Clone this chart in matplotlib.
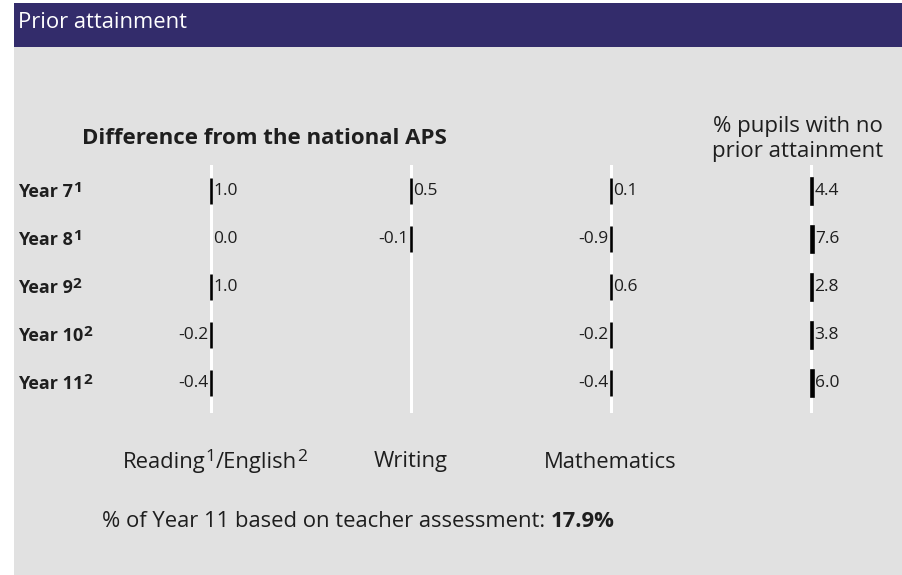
import numpy as np
import matplotlib
matplotlib.use("Agg")
from matplotlib import pyplot as plt
from matplotlib.patches import Rectangle

plt.rcParams['font.family'] = ['Open Sans', 'DejaVu Sans']

# rows and their footnote marks
years = ['Year 7', 'Year 8', 'Year 9', 'Year 10', 'Year 11']
year_marks = ['1', '1', '2', '2', '2']

# difference from the national APS (nan = not reported)
reading = [1.0, 0.0, 1.0, -0.2, -0.4]
writing = [0.5, -0.1, np.nan, np.nan, np.nan]
maths = [0.1, -0.9, 0.6, -0.2, -0.4]
# % pupils with no prior attainment
no_prior = [4.4, 7.6, 2.8, 3.8, 6.0]

teacher_pct = 17.9

W, H = 902, 575
BG = '#e1e1e1'
HEAD = '#332c6b'
INK = '#1e1e1e'

fig = plt.figure(figsize=(W / 100, H / 100), dpi=100)
fig.patch.set_facecolor('white')

def fx(px):
    return px / W

def fy(py):
    return 1 - py / H

# grey panel and header band
fig.patches.append(Rectangle((fx(14), 0), 1 - fx(14), fy(47), transform=fig.transFigure,
                             facecolor=BG, edgecolor='none', zorder=-2))
fig.patches.append(Rectangle((fx(14), fy(47)), 1 - fx(14), fy(3) - fy(47), transform=fig.transFigure,
                             facecolor=HEAD, edgecolor='none', zorder=-2))
fig.text(fx(18), fy(23), 'Prior attainment', color='white', fontsize=15.8, va='center', ha='left')

renderer = fig.canvas.get_renderer()

def pieces(x, y, parts, ha='left'):
    # draw text runs side by side; parts = (text, size, weight, raise_px)
    objs = []
    for s, size, weight, up in parts:
        t = fig.text(0, 0, s, fontsize=size, fontweight=weight, color=INK, va='baseline', ha='left')
        objs.append((t, up))
    widths = [t.get_window_extent(renderer).width for t, _ in objs]
    total = sum(widths)
    left = x - total / 2 if ha == 'center' else x
    for (t, up), w in zip(objs, widths):
        t.set_position((fx(left), fy(y - up)))
        left += w

# column axes: one per measure, zero line at the column centre
cols = [(211, reading), (411, writing), (611, maths), (811, no_prior)]
top, bottom = 165, 413
row_y = 191
row_gap = 48
ypos = np.arange(len(years))
lim = 340

for cx, vals in cols:
    ax = fig.add_axes([fx(cx - 100), fy(bottom), fx(200), fy(top) - fy(bottom)])
    ax.set_xlim(-lim, lim)
    ax.set_ylim(len(years) - 1 + (bottom - (row_y + row_gap * 4)) / row_gap,
                -(row_y - top) / row_gap)
    ax.axis('off')
    ax.axvline(0, color='white', lw=2.2, zorder=1)
    v = np.array(vals, dtype=float)
    ok = ~np.isnan(v)
    ax.barh(ypos[ok], v[ok], height=0.56, color='black', edgecolor='black',
            lw=np.where(v[ok] == 0, 0, 1.9), zorder=2)
    for i in ypos[ok]:
        val = v[i]
        if val < 0:
            ax.annotate(f'{val:.1f}', (val, i), xytext=(-2, 0), textcoords='offset points',
                        ha='right', va='center', fontsize=12.5, color=INK)
        else:
            ax.annotate(f'{val:.1f}', (val, i), xytext=(1.5, 0), textcoords='offset points',
                        ha='left', va='center', fontsize=12.5, color=INK)

# row labels with footnote marks
for i, (yr, mk) in enumerate(zip(years, year_marks)):
    pieces(18, row_y + row_gap * i + 6, [(yr, 13, 'bold', 0), (mk, 11, 'bold', 5)])

fig.text(fx(264), fy(139), 'Difference from the national APS', fontsize=16, fontweight='bold',
         color=INK, ha='center', va='center')
fig.text(fx(798), fy(139), '% pupils with no\nprior attainment', fontsize=16, color=INK,
         ha='center', va='center', linespacing=1.3)

# column captions
pieces(215, 468, [('Reading', 15.8, 'normal', 0), ('1', 12.5, 'normal', 7),
                  ('/English', 15.8, 'normal', 0), ('2', 12.5, 'normal', 7)], ha='center')
fig.text(fx(411), fy(462), 'Writing', fontsize=15.8, color=INK, ha='center', va='center')
fig.text(fx(610), fy(462), 'Mathematics', fontsize=15.8, color=INK, ha='center', va='center')

pieces(358, 527, [('% of Year 11 based on teacher assessment: ', 15.8, 'normal', 0),
                  (f'{teacher_pct:.1f}%', 15.8, 'bold', 0)], ha='center')

fig.savefig('out.png', dpi=100, facecolor=fig.get_facecolor())
